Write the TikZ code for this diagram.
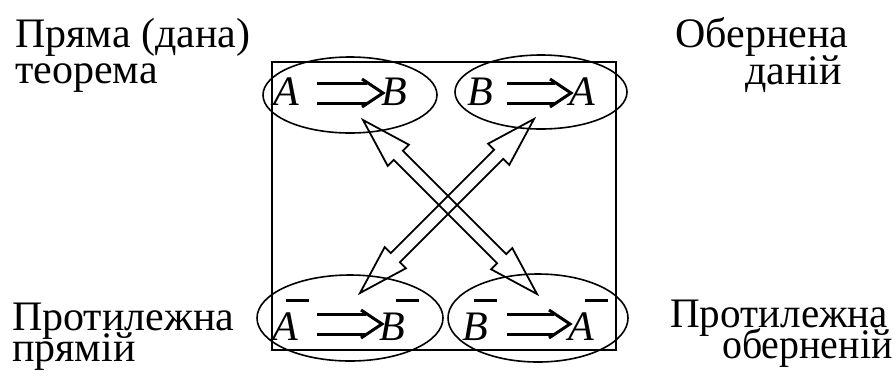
\documentclass[tikz,border=0pt]{standalone}
\usepackage{fontspec}
\setmainfont{Liberation Serif}
\usetikzlibrary{calc,shapes.geometric}
\tikzset{
  lbl/.style={anchor=base west, inner sep=0pt, font=\fontsize{42}{42}\selectfont},
  letter/.style={anchor=base west, inner sep=0pt, font=\fontsize{42}{42}\selectfont\itshape},
  oval/.style={draw, ellipse, line width=1.6pt, inner sep=0pt},
  frame/.style={draw, line width=1.6pt},
  blockarrow/.style={draw, line width=1.8pt, line join=miter},
  implstroke/.style={draw, line width=3pt},
}
\newcommand\fitT[2]{\scalebox{#1}[1]{#2}}
\newcommand\barred[2]{\rlap{\hspace{#2pt}\rule[38pt]{23pt}{3.5pt}}#1}
% implication sign from coordinate #1 (start, on axis) to #2 (tip)
\newcommand\implsign[2]{%
  \draw[implstroke] ($(#1)+(0,-10)$) -- ($(#2)+(-16,-10)$)
                    ($(#1)+(0,10)$) -- ($(#2)+(-16,10)$);
  \draw[implstroke, line join=miter] ($(#2)+(-21,-14)$) -- (#2) -- ($(#2)+(-21,14)$);}
% hollow double-headed block arrow from #1 to #2
\newcommand\blockarrow[2]{%
  \path let \p1=($(#2)-(#1)$), \n1={atan2(\y1,\x1)}, \n2={veclen(\x1,\y1)} in
    \pgfextra{\xdef\baang{\n1}\xdef\balen{\n2}};
  \begin{scope}[shift={(#1)}, rotate=\baang]
    \draw[blockarrow] (0,0) -- (50,15) -- (50,6.5) -- (\balen-50,6.5) -- (\balen-50,15)
      -- (\balen,0) -- (\balen-50,-15) -- (\balen-50,-6.5) -- (50,-6.5) -- (50,-15) -- cycle;
  \end{scope}}
\begin{document}
\begin{tikzpicture}[x=1pt, y=-1pt]
  \useasboundingbox (0,0) rectangle (896,376);
  % frame
  \draw[frame] (272,62) rectangle (616,350);
  % ellipses
  \node[oval, minimum width=174pt, minimum height=76pt] (tl) at (350,95) {};
  \node[oval, minimum width=172pt, minimum height=74pt] (tr) at (541,92) {};
  \node[oval, minimum width=186pt, minimum height=86pt] (bl) at (350,318) {};
  \node[oval, minimum width=180pt, minimum height=88pt] (br) at (538,318) {};
  % formulas
  \node[letter] (tlA) at (273,105) {A};
  \node[letter] (tlB) at (381,105) {B};
  \coordinate (tlS) at (317,93);
  \coordinate (tlT) at (383,93);
  \implsign{tlS}{tlT}
  \node[letter] (trB) at (467,105) {B};
  \node[letter] (trA) at (569,105) {A};
  \coordinate (trS) at (507,93);
  \coordinate (trT) at (571,93);
  \implsign{trS}{trT}
  \node[letter] (blA) at (272,340) {\barred{A}{14}};
  \node[letter] (blB) at (379,340) {\barred{B}{17}};
  \coordinate (blS) at (317,324);
  \coordinate (blT) at (382,324);
  \implsign{blS}{blT}
  \node[letter] (brB) at (462,340) {\barred{B}{12}};
  \node[letter] (brA) at (568,340) {\barred{A}{17}};
  \coordinate (brS) at (507,324);
  \coordinate (brT) at (570,324);
  \implsign{brS}{brT}
  % block arrows
  \coordinate (a1s) at (363,120);
  \coordinate (a1e) at (537,294);
  \coordinate (a2s) at (534,119);
  \coordinate (a2e) at (360,293);
  \blockarrow{a1s}{a1e}
  \blockarrow{a2s}{a2e}
  % labels
  \node[lbl] (l1) at (15,47) {Пряма (дана)};
  \node[lbl] (l2) at (15,83) {теорема};
  \node[lbl] (r1) at (675,47) {Обернена};
  \node[lbl] (r2) at (745,84) {даній};
  \node[lbl] (l3) at (12,330) {Протилежна};
  \node[lbl] (l4) at (12,361) {прямій};
  \node[lbl] (r3) at (670,327) {\fitT{0.98}{Протилежна}};
  \node[lbl] (r4) at (722,358) {\fitT{0.95}{оберненій}};
\end{tikzpicture}
\end{document}
